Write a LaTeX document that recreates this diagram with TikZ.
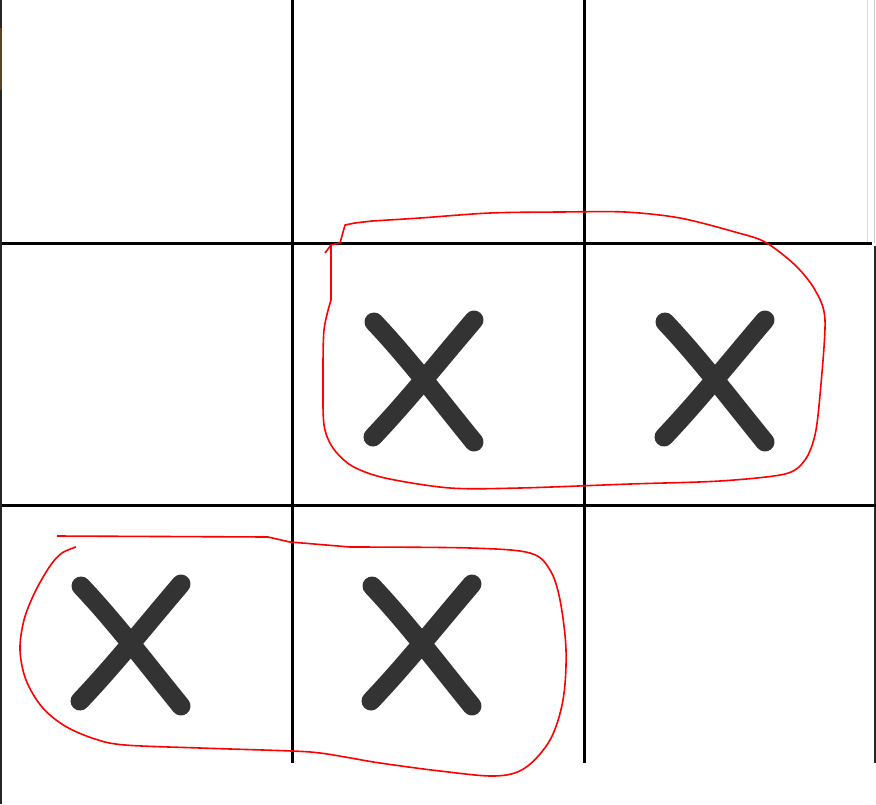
\documentclass[tikz,border=0pt]{standalone}
\tikzset{
  gridline/.style={line width=3pt, black},
  xstroke/.style={line width=19pt, line cap=round, draw=black!80},
  loopline/.style={line width=1.6pt, red, line join=round},
  xm/.pic={
    \draw[xstroke] (-50,-59) .. controls (-15,-22) and (15,18) .. (50,61);
    \draw[xstroke] (-51,56) .. controls (-15,18) and (15,-20) .. (50,-61);
  }
}
\begin{document}
\begin{tikzpicture}[x=1pt,y=-1pt]
\useasboundingbox (0,0) rectangle (876,804);
\fill[white] (0,0) rectangle (876,804);
% border artifacts
\draw[line width=1.5pt, black!85] (1,0) -- (1,804);
\fill[brown!50!black] (0,28) rectangle (2,90);
\draw[line width=1pt, black!15] (867,0) -- (867,243);
\draw[line width=1pt, black!20] (874,0) -- (874,243);
\draw[line width=2pt, black!85] (874.5,246) -- (874.5,763);
% grid
\coordinate (v1t) at (292,0); \coordinate (v1b) at (292,763);
\coordinate (v2t) at (584,0); \coordinate (v2b) at (584,763);
\coordinate (h1l) at (2,243); \coordinate (h1r) at (872,243);
\coordinate (h2l) at (2,505); \coordinate (h2r) at (876,505);
\draw[gridline] (v1t) -- (v1b);
\draw[gridline] (v2t) -- (v2b);
\draw[gridline] (h1l) -- (h1r);
\draw[gridline] (h2l) -- (h2r);
% X marks
\pic at (424,381) {xm};
\pic at (715,381) {xm};
\pic at (131,645) {xm};
\pic at (422,645) {xm};
% red loop around top pair
\draw[loopline] (325,253) -- (331,245) -- (331,300)
  plot[smooth, tension=0.5] coordinates {(331,300) (324,330) (323,380) (324,425) (333,448) (352,466) (385,478) (450,488) (520,488) (630,484) (720,481) (785,474) (805,460) (815,435) (820,395) (825,320) (815,290) (795,265) (765,242) (735,232) (680,218) (625,212) (560,212) (490,213) (420,218) (372,221)}
  -- (355,223) -- (345,225) -- (340,243) -- (331,245);
% red loop around bottom pair
\draw[loopline] (57,536) -- (268,537) -- (290,542) -- (350,547)
  plot[smooth, tension=0.55] coordinates {(350,547) (470,548) (530,553) (550,570) (560,600) (566,650) (563,700) (550,740) (525,768) (495,776) (440,771) (380,763) (345,757) (320,753) (292,751) (200,748) (125,745) (95,739) (65,726) (42,707) (26,680) (20,650) (24,620) (35,592) (50,566) (62,553) (76,547)};
\end{tikzpicture}
\end{document}
